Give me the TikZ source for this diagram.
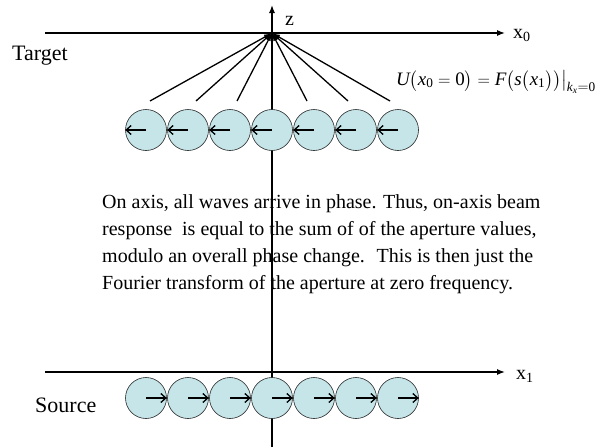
\documentclass[tikz,border=0pt]{standalone}
\usepackage{amsmath}
\usepackage{fontspec}
\setmainfont{Liberation Serif}
\usetikzlibrary{arrows.meta}

\definecolor{cellfill}{RGB}{197,229,233}
\tikzset{
  cell/.style={circle, draw=black!85, fill=cellfill, minimum size=41pt, inner sep=0pt, line width=0.6pt},
  axis/.style={line width=1.3pt, -{Latex[length=8pt,width=6pt]}},
  ray/.style={line width=1.3pt, -{Latex[length=8pt,width=5pt]}},
  pol/.style={line width=1.3pt, -{Straight Barb[length=5pt,width=9pt]}},
  lbl/.style={inner sep=0pt, anchor=base west}
}
\newcommand{\vi}[1]{\textit{#1}}

\begin{document}
\begin{tikzpicture}[x=1pt, y=-1pt]
  \useasboundingbox (0,0) rectangle (604,447);
  % axes
  \coordinate (O) at (272,33);
  \coordinate (ztop) at (272,5);
  \coordinate (zbot) at (272,447);
  \coordinate (x0a) at (45,33);
  \coordinate (x0b) at (505,33);
  \coordinate (x1a) at (45,372);
  \coordinate (x1b) at (505,372);
  \draw[axis] (zbot) -- (ztop);
  \draw[axis] (x0a) -- (x0b);
  \draw[axis] (x1a) -- (x1b);

  % target and source elements
  \foreach \k [count=\i] in {-3,...,3} {
    \node[cell] (t\i) at ({272+42*\k},130) {};
    \node[cell] (s\i) at ({272+42*\k},398) {};
    \draw[pol] (t\i.center) -- (t\i.west);
    \draw[pol] (s\i.center) -- (s\i.east);
  }

  % rays to the on-axis point
  \foreach \dx [count=\i] in {-122,-76,-35,35,76,118}
    \coordinate (r\i) at ({272+\dx},101);
  \foreach \i in {1,...,6}
    \draw[ray] (r\i) -- (O);

  \node[lbl, font=\fontsize{20}{22}\selectfont] (zlab) at (285,25) {z};
  \node[lbl, font=\fontsize{20}{22}\selectfont] (x0lab) at (513,38) {x\textsubscript{0}};
  \node[lbl, font=\fontsize{20}{22}\selectfont] (x1lab) at (516,379) {x\textsubscript{1}};
  \node[lbl, font=\fontsize{22}{26}\selectfont] (target) at (12,60) {Target};
  \node[lbl, font=\fontsize{22}{26}\selectfont] (source) at (35,412) {Source};
  \node[lbl, font=\fontsize{19}{22}\selectfont] (eq) at (396,85)
    {$\vi{U}\bigl(\vi{x}_{\text{0}} = \text{0}\bigr) = \vi{F}\bigl(\vi{s}\bigl(\vi{x}_{\text{1}}\bigr)\bigr)\bigr|_{\vi{k}_{\vi{x}}=\text{0}}$};

  \node[inner sep=0pt, anchor=north west, align=left, font=\fontsize{20}{27}\selectfont] (note) at (102,194)
    {On axis, all waves arrive in phase. Thus, on-axis beam\\
     response~ is equal to the sum of of the aperture values,\\
     modulo an overall phase change.~ This is then just the\\
     Fourier transform of the aperture at zero frequency.};
\end{tikzpicture}
\end{document}
